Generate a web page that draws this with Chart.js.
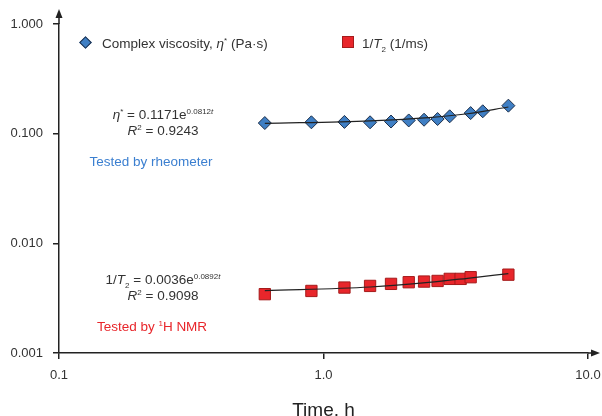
<!DOCTYPE html>
<html lang="en">
<head>
  <meta charset="UTF-8">
  <title>Viscosity and 1/T2 vs time</title>
  <script src="https://cdn.jsdelivr.net/npm/chart.js@4"></script>
  <style>
    body { margin: 0; background: #fff; font-family: 'Liberation Sans', Arial, sans-serif; color: #333; }
    #wrap { position: relative; width: 602px; height: 416px; overflow: hidden; }
    .note { position: absolute; font-size: 13.5px; line-height: 13px; white-space: nowrap; transform: translateX(-50%); }
    .leg { position: absolute; font-size: 13.5px; line-height: 13px; white-space: nowrap; }
    .mk { position: absolute; box-sizing: border-box; }
    sup, sub { font-size: 8px; line-height: 0; }
    i { font-style: italic; }
  </style>
</head>
<body>
  <div id="wrap">
    <canvas id="chart" width="602" height="416"></canvas>

    <div class="mk" style="left:81px;top:38px;width:9px;height:9px;background:#3f7fc4;border:1px solid #1d2f4a;transform:rotate(45deg);"></div>
    <div class="leg" style="left:102px;top:37px;">Complex viscosity, <i>η</i><sup>*</sup> (Pa·s)</div>
    <div class="mk" style="left:342px;top:36px;width:12px;height:12px;background:#e8262b;border:1px solid #a51b1b;"></div>
    <div class="leg" style="left:362px;top:37px;">1/<i>T</i><sub>2</sub> (1/ms)</div>

    <div class="note" style="left:163px;top:108px;"><i>η</i><sup>*</sup> = 0.1171e<sup>0.0812<i>t</i></sup></div>
    <div class="note" style="left:163px;top:124px;"><i>R</i><sup>2</sup> = 0.9243</div>
    <div class="note" style="left:151px;top:155px;color:#3b7fd0;">Tested by rheometer</div>

    <div class="note" style="left:163px;top:273px;">1/<i>T</i><sub>2</sub> = 0.0036e<sup>0.0892<i>t</i></sup></div>
    <div class="note" style="left:163px;top:289px;"><i>R</i><sup>2</sup> = 0.9098</div>
    <div class="note" style="left:152px;top:320px;color:#e8262b;">Tested by <sup>1</sup>H NMR</div>
  </div>

  <script>
    // values
    const timeVisc = [0.6, 0.9, 1.2, 1.5, 1.8, 2.1, 2.4, 2.7, 3.0, 3.6, 4.0, 5.0];
    const viscosity = [0.125, 0.127, 0.128, 0.127, 0.129, 0.132, 0.134, 0.136, 0.144, 0.154, 0.160, 0.180];
    const timeT2 = [0.6, 0.9, 1.2, 1.5, 1.8, 2.1, 2.4, 2.7, 3.0, 3.3, 3.6, 5.0];
    const invT2 = [0.00344, 0.00368, 0.00395, 0.00409, 0.00427, 0.00442, 0.00448, 0.00454, 0.00474, 0.00474, 0.00491, 0.00518];

    // trendlines as drawn in the figure
    const timeTrend = [0.6, 1.5, 2.5, 3.5, 5.0];
    const viscTrend = [0.124, 0.131, 0.140, 0.152, 0.175];
    const invT2Trend = [0.00370, 0.00400, 0.00440, 0.00480, 0.00530];

    const xTicks = [0.1, 1, 10];
    const xTickLabels = ['0.1', '1.0', '10.0'];
    const yTicks = [0.001, 0.01, 0.1, 1];
    const yTickLabels = ['0.001', '0.010', '0.100', '1.000'];

    const pts = (xs, ys) => xs.map((x, i) => ({ x: x, y: ys[i] }));

    // axis arrows
    const arrows = {
      id: 'arrows',
      afterDraw(chart) {
        const c = chart.ctx, a = chart.chartArea;
        c.save();
        c.strokeStyle = '#222';
        c.fillStyle = '#222';
        c.lineWidth = 1.5;
        c.beginPath();
        c.moveTo(a.left, a.top);
        c.lineTo(a.left, 16);
        c.moveTo(a.right, a.bottom);
        c.lineTo(593, a.bottom);
        c.stroke();
        c.beginPath();
        c.moveTo(a.left, 9);
        c.lineTo(a.left - 3.5, 18);
        c.lineTo(a.left + 3.5, 18);
        c.closePath();
        c.fill();
        c.beginPath();
        c.moveTo(600, a.bottom);
        c.lineTo(591, a.bottom - 3.5);
        c.lineTo(591, a.bottom + 3.5);
        c.closePath();
        c.fill();
        c.restore();
      }
    };

    new Chart(document.getElementById('chart'), {
      type: 'scatter',
      data: {
        datasets: [
          {
            label: 'viscosity trend',
            data: pts(timeTrend, viscTrend),
            showLine: true,
            borderColor: '#222',
            borderWidth: 1.2,
            pointRadius: 0,
            cubicInterpolationMode: 'monotone'
          },
          {
            label: '1/T2 trend',
            data: pts(timeTrend, invT2Trend),
            showLine: true,
            borderColor: '#222',
            borderWidth: 1.2,
            pointRadius: 0,
            cubicInterpolationMode: 'monotone'
          },
          {
            label: 'Complex viscosity, η* (Pa·s)',
            data: pts(timeVisc, viscosity),
            pointStyle: 'rectRot',
            pointRadius: 6.5,
            backgroundColor: '#3f7fc4',
            borderColor: '#1d2f4a',
            borderWidth: 1
          },
          {
            label: '1/T2 (1/ms)',
            data: pts(timeT2, invT2),
            pointStyle: 'rect',
            pointRadius: 8,
            backgroundColor: '#e8262b',
            borderColor: '#a51b1b',
            borderWidth: 1
          }
        ]
      },
      options: {
        responsive: false,
        animation: false,
        layout: { padding: { top: 24, right: 14, left: 0, bottom: 0 } },
        plugins: { legend: { display: false }, tooltip: { enabled: false } },
        scales: {
          x: {
            type: 'logarithmic',
            min: 0.1,
            max: 10,
            afterBuildTicks: s => { s.ticks = xTicks.map(v => ({ value: v })); },
            afterFit: s => { s.height = 63; s.paddingLeft = 0; s.paddingRight = 0; },
            grid: { drawOnChartArea: false, drawTicks: true, tickLength: 6, color: '#222', lineWidth: 1.5 },
            border: { display: true, color: '#222', width: 1.5 },
            ticks: {
              color: '#333',
              font: { family: 'Liberation Sans', size: 13 },
              padding: 9,
              maxRotation: 0,
              callback: v => xTickLabels[xTicks.indexOf(v)]
            },
            title: {
              display: true,
              text: 'Time, h',
              color: '#222',
              font: { family: 'Liberation Sans', size: 19 },
              padding: { top: 0, bottom: -6 }
            }
          },
          y: {
            type: 'logarithmic',
            min: 0.001,
            max: 1,
            afterBuildTicks: s => { s.ticks = yTicks.map(v => ({ value: v })); },
            afterFit: s => { s.width = 59; s.paddingTop = 0; s.paddingBottom = 0; },
            grid: { drawOnChartArea: false, drawTicks: true, tickLength: 6, color: '#222', lineWidth: 1.5 },
            border: { display: true, color: '#222', width: 1.5 },
            ticks: {
              color: '#333',
              font: { family: 'Liberation Sans', size: 13 },
              padding: 10,
              callback: v => yTickLabels[yTicks.indexOf(v)]
            }
          }
        }
      },
      plugins: [arrows]
    });
  </script>
</body>
</html>
